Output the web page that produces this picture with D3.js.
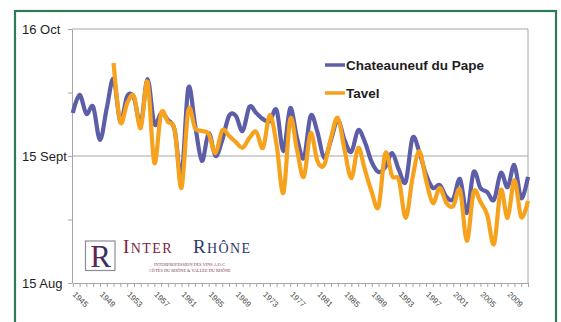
<!DOCTYPE html>
<html>
<head>
<meta charset="utf-8">
<script src="https://cdn.jsdelivr.net/npm/d3@7"></script>
<style>
  html, body { margin: 0; padding: 0; background: #fff; }
  svg { display: block; }
</style>
</head>
<body>
<svg id="chart" width="561" height="322"></svg>
<script>
// Harvest start dates, in days after 15 August, one value per vintage.
const years = [
  1945, 1946, 1947, 1948, 1949, 1950, 1951, 1952, 1953, 1954,
  1955, 1956, 1957, 1958, 1959, 1960, 1961, 1962, 1963, 1964,
  1965, 1966, 1967, 1968, 1969, 1970, 1971, 1972, 1973, 1974,
  1975, 1976, 1977, 1978, 1979, 1980, 1981, 1982, 1983, 1984,
  1985, 1986, 1987, 1988, 1989, 1990, 1991, 1992, 1993, 1994,
  1995, 1996, 1997, 1998, 1999, 2000, 2001, 2002, 2003, 2004,
  2005, 2006, 2007, 2008, 2009, 2010, 2011, 2012
];

const chateauneuf = [
  41.5, 45.9, 41.3, 43.0, 34.9, 42.7, 49.8, 39.3, 45.6, 45.2,
  38.8, 49.8, 38.8, 41.5, 39.8, 37.3, 25.9, 47.6, 38.6, 29.8,
  36.6, 31.0, 34.9, 40.8, 40.8, 37.1, 43.0, 41.5, 40.0, 39.5,
  42.2, 32.2, 42.7, 35.4, 30.5, 40.8, 36.9, 30.5, 34.9, 39.8,
  34.9, 32.0, 37.3, 34.4, 29.5, 27.1, 28.3, 31.7, 27.6, 24.7,
  35.4, 32.0, 26.4, 23.2, 23.9, 21.0, 20.5, 25.4, 17.1, 27.1,
  23.2, 22.2, 20.3, 26.9, 23.4, 28.8, 20.7, 25.9
];

// Tavel records begin in 1951.
const tavel = [
  null, null, null, null, null, null, 53.7, 39.3, 43.9, 45.6,
  37.8, 49.1, 29.3, 41.5, 39.3, 37.3, 23.2, 42.2, 37.8, 37.1,
  36.4, 31.7, 37.3, 35.9, 34.4, 33.0, 35.4, 36.9, 33.0, 41.0,
  33.7, 22.0, 40.0, 32.5, 25.9, 36.6, 29.8, 28.8, 35.4, 40.3,
  32.5, 25.6, 33.0, 27.6, 22.2, 18.6, 31.7, 26.1, 25.1, 15.9,
  25.6, 32.2, 25.1, 19.5, 23.2, 19.5, 18.8, 22.7, 10.3, 22.2,
  19.8, 16.6, 9.5, 22.7, 15.9, 25.1, 16.1, 20.0
];

const seriesNames = ["Chateauneuf du Pape", "Tavel"];
const seriesColors = ["#5d5ea8", "#f6a21c"];

const xTickLabels = ["1945", "1949", "1953", "1957", "1961", "1965", "1969", "1973",
  "1977", "1981", "1985", "1989", "1993", "1997", "2001", "2005", "2009"];

const yTickValues = [0, 15.5, 31, 46.5, 62];
const yTickLabels = { 0: "15 Aug", 31: "15 Sept", 62: "16 Oct" };

const svg = d3.select("#chart");

// Outer green frame
svg.append("rect")
  .attr("x", 15).attr("y", 11)
  .attr("width", 541).attr("height", 330)
  .attr("fill", "#fff")
  .attr("stroke", "#2f7b56")
  .attr("stroke-width", 2.2);

const plotLeft = 72, plotRight = 528, plotTop = 29, plotBottom = 283;

const x = d3.scaleLinear().domain([1945, 2012]).range([plotLeft + 0.8, plotRight]);
const y = d3.scaleLinear().domain([0, 62]).range([plotBottom, plotTop]);

const gridColor = "#a6a6a6";

// Horizontal gridlines at the labelled dates
svg.append("g")
  .selectAll("line")
  .data([31, 62])
  .join("line")
  .attr("x1", plotLeft).attr("x2", plotRight)
  .attr("y1", d => y(d)).attr("y2", d => y(d))
  .attr("stroke", gridColor).attr("stroke-width", 1);

// Right edge of the plot area
svg.append("line")
  .attr("x1", plotRight).attr("x2", plotRight)
  .attr("y1", plotTop).attr("y2", plotBottom)
  .attr("stroke", gridColor).attr("stroke-width", 1);

// Y axis
const yAxis = svg.append("g")
  .attr("transform", `translate(${plotLeft},0)`)
  .call(d3.axisLeft(y)
    .tickValues(yTickValues)
    .tickSize(4)
    .tickSizeOuter(0)
    .tickFormat(d => yTickLabels[d] || ""));
yAxis.select(".domain").attr("stroke", gridColor);
yAxis.selectAll(".tick line").attr("stroke", gridColor);
yAxis.selectAll(".tick text")
  .attr("x", 22 - plotLeft)
  .attr("text-anchor", "start")
  .attr("font-family", "Liberation Sans, Arial, sans-serif")
  .attr("font-size", 13)
  .attr("fill", "#1e1e1e");

// X axis: a tick for every vintage, a label every fourth year
const xAxis = svg.append("g")
  .attr("transform", `translate(0,${plotBottom})`)
  .call(d3.axisBottom(x)
    .tickValues(years)
    .tickSize(4)
    .tickSizeOuter(0)
    .tickFormat(d => xTickLabels.includes(String(d)) ? String(d) : ""));
xAxis.select(".domain").attr("stroke", gridColor);
xAxis.selectAll(".tick line").attr("stroke", gridColor);
xAxis.selectAll(".tick text")
  .attr("y", 0).attr("dy", 0)
  .attr("text-anchor", "start")
  .attr("transform", "translate(-1,12) rotate(45)")
  .attr("font-family", "Liberation Sans, Arial, sans-serif")
  .attr("font-size", 8)
  .attr("fill", "#444");

// Logo block
const logo = svg.append("g");
const defs = svg.append("defs");
const grad = defs.append("linearGradient").attr("id", "rgrad")
  .attr("x1", "0").attr("x2", "1").attr("y1", "0").attr("y2", "0");
grad.append("stop").attr("offset", "0%").attr("stop-color", "#7a2146");
grad.append("stop").attr("offset", "45%").attr("stop-color", "#4a2a5a");
grad.append("stop").attr("offset", "100%").attr("stop-color", "#27336a");

logo.append("rect")
  .attr("x", 85.5).attr("y", 241).attr("width", 29.5).attr("height", 29.5)
  .attr("fill", "#fff").attr("stroke", "#8c8c98").attr("stroke-width", 1.2);
logo.append("text")
  .attr("x", 100.5).attr("y", 266.5)
  .attr("text-anchor", "middle")
  .attr("font-family", "Liberation Serif, Times New Roman, serif")
  .attr("font-size", 31)
  .attr("fill", "url(#rgrad)")
  .text("R");

function smallCaps(g, xPos, first, rest, color) {
  const t = g.append("text")
    .attr("x", xPos).attr("y", 253)
    .attr("font-family", "Liberation Serif, Times New Roman, serif")
    .attr("fill", color)
    .attr("letter-spacing", 1.4);
  t.append("tspan").attr("font-size", 19).text(first);
  t.append("tspan").attr("font-size", 14).text(rest);
}
smallCaps(logo, 123, "I", "NTER", "#7b2346");
smallCaps(logo, 193, "R", "HÔNE", "#2f3766");

logo.append("text")
  .attr("x", 190).attr("y", 265.5)
  .attr("text-anchor", "middle")
  .attr("font-family", "Liberation Serif, Times New Roman, serif")
  .attr("font-size", 4.3)
  .attr("fill", "#7b3a55")
  .text("INTERPROFESSION DES VINS A.O.C.");
logo.append("text")
  .attr("x", 190).attr("y", 271.5)
  .attr("text-anchor", "middle")
  .attr("font-family", "Liberation Serif, Times New Roman, serif")
  .attr("font-size", 4.3)
  .attr("fill", "#7b3a55")
  .text("CÔTES DU RHÔNE & VALLÉE DU RHÔNE");

// Smoothed series lines
const line = d3.line()
  .defined(d => d.v !== null)
  .x(d => x(d.year))
  .y(d => y(d.v))
  .curve(d3.curveCardinal.tension(0));

[chateauneuf, tavel].forEach((vals, i) => {
  const pts = years.map((yr, k) => ({ year: yr, v: vals[k] }));
  svg.append("path")
    .datum(pts)
    .attr("fill", "none")
    .attr("stroke", seriesColors[i])
    .attr("stroke-width", 4.2)
    .attr("stroke-linejoin", "round")
    .attr("stroke-linecap", "butt")
    .attr("d", line);
});

// Legend
const legend = svg.append("g");
seriesNames.forEach((name, i) => {
  const ly = 65 + i * 28;
  legend.append("line")
    .attr("x1", 325).attr("x2", 345)
    .attr("y1", ly).attr("y2", ly)
    .attr("stroke", seriesColors[i]).attr("stroke-width", 3.5);
  legend.append("text")
    .attr("x", 346).attr("y", ly)
    .attr("dy", "0.36em")
    .attr("font-family", "Liberation Sans, Arial, sans-serif")
    .attr("font-weight", "bold")
    .attr("font-size", 13.5)
    .attr("fill", "#1e1e1e")
    .text(name);
});
</script>
</body>
</html>
